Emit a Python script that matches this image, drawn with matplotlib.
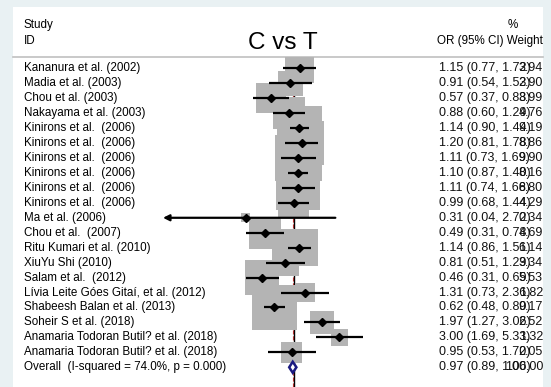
import numpy as np
import matplotlib
matplotlib.use("Agg")
import matplotlib.pyplot as plt
from matplotlib.patches import Rectangle
from matplotlib.transforms import blended_transform_factory

plt.rcParams['font.family'] = ['Liberation Sans', 'DejaVu Sans']

# study data
studies = ["Kananura et al. (2002)", "Madia et al. (2003)", "Chou et al. (2003)",
           "Nakayama et al. (2003)", "Kinirons et al.  (2006)", "Kinirons et al.  (2006)",
           "Kinirons et al.  (2006)", "Kinirons et al.  (2006)", "Kinirons et al.  (2006)",
           "Kinirons et al.  (2006)", "Ma et al. (2006)", "Chou et al.  (2007)",
           "Ritu Kumari et al. (2010)", "XiuYu Shi (2010)", "Salam et al.  (2012)",
           "Lívia Leite Góes Gitaí, et al. (2012)", "Shabeesh Balan et al. (2013)",
           "Soheir S et al. (2018)", "Anamaria Todoran Butil? et al. (2018)",
           "Anamaria Todoran Butil? et al. (2018)"]
odds = [1.15, 0.91, 0.57, 0.88, 1.14, 1.20, 1.11, 1.10, 1.11, 0.99,
        0.31, 0.49, 1.14, 0.81, 0.46, 1.31, 0.62, 1.97, 3.00, 0.95]
ci_low = [0.77, 0.54, 0.37, 0.60, 0.90, 0.81, 0.73, 0.87, 0.74, 0.68,
          0.04, 0.31, 0.86, 0.51, 0.31, 0.73, 0.48, 1.27, 1.69, 0.53]
ci_high = [1.72, 1.53, 0.88, 1.29, 1.44, 1.78, 1.69, 1.40, 1.66, 1.44,
           2.72, 0.78, 1.51, 1.29, 0.69, 2.36, 0.80, 3.06, 5.33, 1.70]
weights = [3.94, 2.90, 3.99, 4.76, 9.19, 8.86, 9.90, 8.16, 8.80, 4.29,
           0.34, 4.69, 6.14, 3.34, 5.53, 1.82, 9.17, 2.52, 1.32, 2.05]
overall_label = "Overall  (I-squared = 74.0%, p = 0.000)"
overall = (0.97, 0.89, 1.06)

W, H = 551, 387
fig = plt.figure(figsize=(W / 100, H / 100), dpi=100)
fig.patch.set_facecolor('#E9F1F3')
fig.patches.append(Rectangle((13 / W, 0), (543 - 13) / W, 1 - 7 / H,
                             transform=fig.transFigure, facecolor='white',
                             edgecolor='none', zorder=-5))

# forest panel
ax = fig.add_axes([163 / W, 0, (425 - 163) / W, (387 - 57) / H])
ax.set_zorder(2)
ax.set_xscale('log')
xmin = 0.042
ax.set_xlim(xmin, 1 / xmin)
ax.set_ylim(21.32, -0.756)
ax.axis('off')
ax.patch.set_alpha(0)

rows = np.arange(len(studies))
ax.axvline(1, color='black', lw=1, zorder=1)
ax.axvline(overall[0], color='#B03030', lw=0.8, ls='--', zorder=1)

ax.scatter(odds, rows, marker='s', s=np.array(weights) * 113,
           color='#B4B4B4', linewidths=0, zorder=2)
for r, o, lo, hi in zip(rows, odds, ci_low, ci_high):
    if lo < xmin:
        ax.annotate('', xy=(xmin, r), xytext=(hi, r),
                    arrowprops=dict(arrowstyle='-|>', color='black', lw=1.6,
                                    mutation_scale=9, shrinkA=0, shrinkB=0),
                    zorder=3)
    else:
        ax.plot([lo, hi], [r, r], color='black', lw=1.6, zorder=3,
                solid_capstyle='butt')
ax.plot(odds, rows, 'D', color='black', ms=4.5, zorder=4)

orow = len(studies)
o, lo, hi = overall
ax.fill([lo, o, hi, o, lo], [orow, orow - 0.37, orow, orow + 0.37, orow],
        facecolor='white', edgecolor='#1A1A80', lw=1.8, zorder=4)

# texts
tr = blended_transform_factory(fig.transFigure, ax.transData)
fs = 8.4
fs_num = 9.0
for r, name in enumerate(studies + [overall_label]):
    ax.text(24 / W, r, name, transform=tr, fontsize=fs, va='center', ha='left',
            clip_on=False)
ci_text = ["%.2f (%.2f, %.2f)" % v for v in zip(odds, ci_low, ci_high)]
ci_text.append("%.2f (%.2f, %.2f)" % overall)
w_text = ["%.2f" % w for w in weights] + ["100.00"]
for r, (c, w) in enumerate(zip(ci_text, w_text)):
    ax.text(439 / W, r, c, transform=tr, fontsize=fs_num, va='center', ha='left',
            color='#111111', clip_on=False)
    ax.text(543 / W, r, w, transform=tr, fontsize=fs_num, va='center', ha='right',
            color='#111111', clip_on=False)

fig.text(24 / W, 1 - 28 / H, "Study", fontsize=fs, va='baseline')
fig.text(24 / W, 1 - 44 / H, "ID", fontsize=fs, va='baseline')
fig.text(513 / W, 1 - 28 / H, "%", fontsize=fs, va='baseline', ha='center')
fig.text(543 / W, 1 - 44 / H, "OR (95% CI) Weight", fontsize=fs, va='baseline', ha='right')
fig.text(283 / W, 1 - 49 / H, "C vs T", fontsize=17.5, va='baseline', ha='center')
fig.add_artist(plt.Line2D([13 / W, 543 / W], [1 - 57 / H, 1 - 57 / H],
                          transform=fig.transFigure, color='#C0C0C0', lw=1.2))

fig.savefig('out.png', dpi=100, facecolor=fig.get_facecolor())
